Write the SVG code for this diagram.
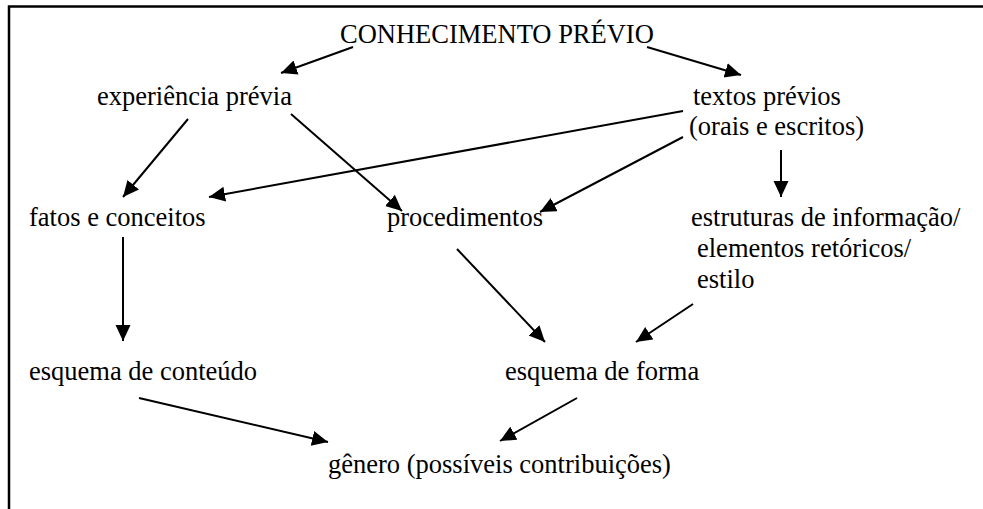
<svg xmlns="http://www.w3.org/2000/svg" width="983" height="509" viewBox="0 0 983 509">
<defs>
<style>
text{font-family:"Liberation Serif","Times New Roman",serif;font-size:26.5px;fill:#000}
.c{stroke:#000;stroke-width:2;fill:none;marker-end:url(#ah)}
.f{stroke:#000;stroke-width:2.5;fill:none}
</style>
<marker id="ah" markerUnits="userSpaceOnUse" markerWidth="20" markerHeight="18" refX="16" refY="7.5" orient="auto">
<path d="M0,0 L16,7.5 L0,15 Z" fill="#000"/>
</marker>
</defs>
<rect width="983" height="509" fill="#fff"/>
<g id="frame">
<path class="f" d="M9,509 V6.5 H983"/>
</g>
<g id="connectors">
<line class="c" x1="353" y1="47" x2="281" y2="73"/>
<line class="c" x1="647" y1="47" x2="741" y2="75"/>
<line class="c" x1="188" y1="119" x2="123" y2="197"/>
<line class="c" x1="291" y1="114" x2="402" y2="211"/>
<line class="c" x1="683" y1="111" x2="209" y2="197"/>
<line class="c" x1="683" y1="137" x2="540" y2="212"/>
<line class="c" x1="781" y1="150" x2="781" y2="197"/>
<line class="c" x1="123" y1="237" x2="123" y2="341"/>
<line class="c" x1="457" y1="249" x2="545" y2="342"/>
<line class="c" x1="693" y1="304" x2="636" y2="342"/>
<line class="c" x1="139" y1="398" x2="328" y2="442"/>
<line class="c" x1="577" y1="398" x2="500" y2="441"/>
</g>
<g id="n-conhecimento"><text x="340" y="43">CONHECIMENTO PRÉVIO</text></g>
<g id="n-experiencia"><text x="97" y="105">experiência prévia</text></g>
<g id="n-textos"><text x="693" y="105">textos prévios</text><text x="689" y="135">(orais e escritos)</text></g>
<g id="n-fatos"><text x="29" y="226">fatos e conceitos</text></g>
<g id="n-procedimentos"><text x="387" y="226">procedimentos</text></g>
<g id="n-estruturas"><text x="691" y="226">estruturas de informação/</text><text x="697" y="257">elementos retóricos/</text><text x="697" y="288">estilo</text></g>
<g id="n-conteudo"><text x="29" y="380">esquema de conteúdo</text></g>
<g id="n-forma"><text x="505" y="380">esquema de forma</text></g>
<g id="n-genero"><text x="328" y="473">gênero (possíveis contribuições)</text></g>
</svg>
